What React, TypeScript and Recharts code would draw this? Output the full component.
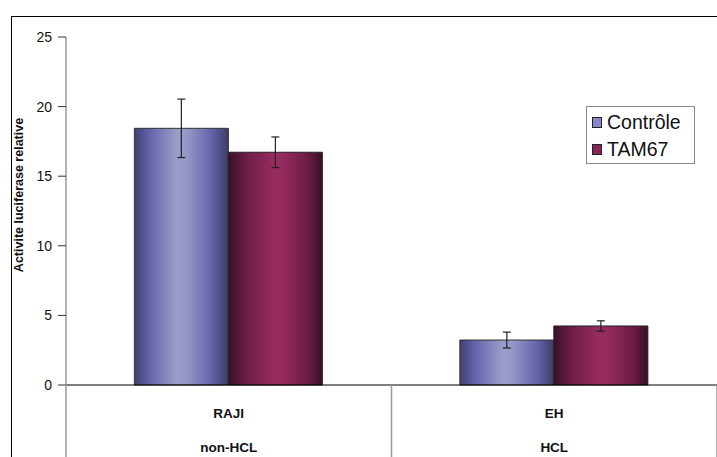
import React from "react";
import { BarChart, Bar, XAxis, YAxis, ErrorBar } from "recharts";

const categories = ["RAJI", "EH"];
const groups = ["non-HCL", "HCL"];
const controle = [18.44, 3.23];
const controleErr = [2.1, 0.57];
const tam67 = [16.72, 4.24];
const tam67Err = [1.1, 0.37];
const yTicks = [0, 5, 10, 15, 20, 25];
const seriesNames = ["Contrôle", "TAM67"];
const swatchColors = ["#8888c8", "#8a2458"];

const data = categories.map((name, i) => ({
  name,
  group: groups[i],
  controle: controle[i],
  controleErr: controleErr[i],
  tam67: tam67[i],
  tam67Err: tam67Err[i],
}));

const FONT = "Liberation Sans, Arial, sans-serif";

function CategoryTick(props: any) {
  const { x, y, payload, index } = props;
  const half = payload && payload.offset ? payload.offset : 163;
  const item = data[index] || data[0];
  const top = y - 8;
  return (
    <g>
      {index === 0 && (
        <line x1={x - half} y1={top} x2={x - half} y2={457} stroke="#999" strokeWidth={1.5} />
      )}
      <line x1={x + half} y1={top} x2={x + half} y2={457} stroke="#999" strokeWidth={1.5} />
      <text x={x} y={top + 33} textAnchor="middle" fontFamily={FONT} fontSize={13.5} fontWeight="bold" fill="#111">
        {payload.value}
      </text>
      <text x={x} y={top + 67} textAnchor="middle" fontFamily={FONT} fontSize={13.5} fontWeight="bold" fill="#111">
        {item.group}
      </text>
    </g>
  );
}

function LegendBox() {
  return (
    <div
      style={{
        position: "absolute",
        left: 586,
        top: 106,
        border: "1px solid #888",
        background: "#fff",
        width: 109,
        height: 58,
        boxSizing: "border-box",
        padding: "2px 0 0 5px",
        fontFamily: FONT,
        fontSize: 19.5,
        color: "#111",
      }}
    >
      {seriesNames.map((label, i) => (
        <div key={label} style={{ display: "flex", alignItems: "center", height: 27, lineHeight: "27px" }}>
          <span
            style={{
              display: "inline-block",
              width: 10,
              height: 11,
              background: swatchColors[i],
              border: "1px solid #222",
              marginRight: 5,
              boxSizing: "border-box",
            }}
          />
          <span>{label}</span>
        </div>
      ))}
    </div>
  );
}

export default function App() {
  return (
    <div style={{ position: "absolute", left: 0, top: 0, width: 717, height: 457, overflow: "hidden", background: "#fff" }}>
      <div
        style={{
          position: "absolute",
          left: 11,
          top: 16,
          width: 720,
          height: 460,
          border: "1px solid #000",
          boxSizing: "border-box",
        }}
      />
      <div style={{ position: "absolute", left: 0, top: 0 }}>
        <BarChart
          width={717}
          height={457}
          data={data}
          margin={{ top: 37, right: 0, bottom: 0, left: 0 }}
          barCategoryGap="21%"
          barGap={0}
        >
          <defs>
            <linearGradient id="gControle" x1="0" y1="0" x2="1" y2="0">
              <stop offset="0%" stopColor="#3f4070" />
              <stop offset="18%" stopColor="#6868b0" />
              <stop offset="45%" stopColor="#9c9cca" />
              <stop offset="55%" stopColor="#9898c8" />
              <stop offset="82%" stopColor="#6464aa" />
              <stop offset="100%" stopColor="#3c3c68" />
            </linearGradient>
            <linearGradient id="gTam" x1="0" y1="0" x2="1" y2="0">
              <stop offset="0%" stopColor="#3a1128" />
              <stop offset="20%" stopColor="#6e1e48" />
              <stop offset="48%" stopColor="#982c60" />
              <stop offset="58%" stopColor="#942a5e" />
              <stop offset="85%" stopColor="#6a1c44" />
              <stop offset="100%" stopColor="#381026" />
            </linearGradient>
          </defs>
          <XAxis
            dataKey="name"
            height={72}
            axisLine={{ stroke: "#000", strokeWidth: 1 }}
            tickLine={false}
            tick={<CategoryTick />}
            interval={0}
          />
          <YAxis
            type="number"
            domain={[0, 25]}
            ticks={yTicks}
            width={66}
            axisLine={{ stroke: "#999", strokeWidth: 1.5 }}
            tickLine={{ stroke: "#333" }}
            tickSize={8}
            tickMargin={6}
            tick={{ fontFamily: FONT, fontSize: 14, fill: "#111" }}
            label={() => (
              <text
                x={23}
                y={195}
                transform="rotate(-90 23 195)"
                textAnchor="middle"
                fontFamily={FONT}
                fontSize={12.5}
                fontWeight="bold"
                fill="#111"
              >
                Activite luciferase relative
              </text>
            )}
          />
          <Bar dataKey="controle" name={seriesNames[0]} fill="url(#gControle)" stroke="#333" strokeWidth={1} isAnimationActive={false}>
            <ErrorBar dataKey="controleErr" width={4} stroke="#222" strokeWidth={1.2} />
          </Bar>
          <Bar dataKey="tam67" name={seriesNames[1]} fill="url(#gTam)" stroke="#222" strokeWidth={1} isAnimationActive={false}>
            <ErrorBar dataKey="tam67Err" width={4} stroke="#222" strokeWidth={1.2} />
          </Bar>
        </BarChart>
      </div>
      <LegendBox />
    </div>
  );
}
